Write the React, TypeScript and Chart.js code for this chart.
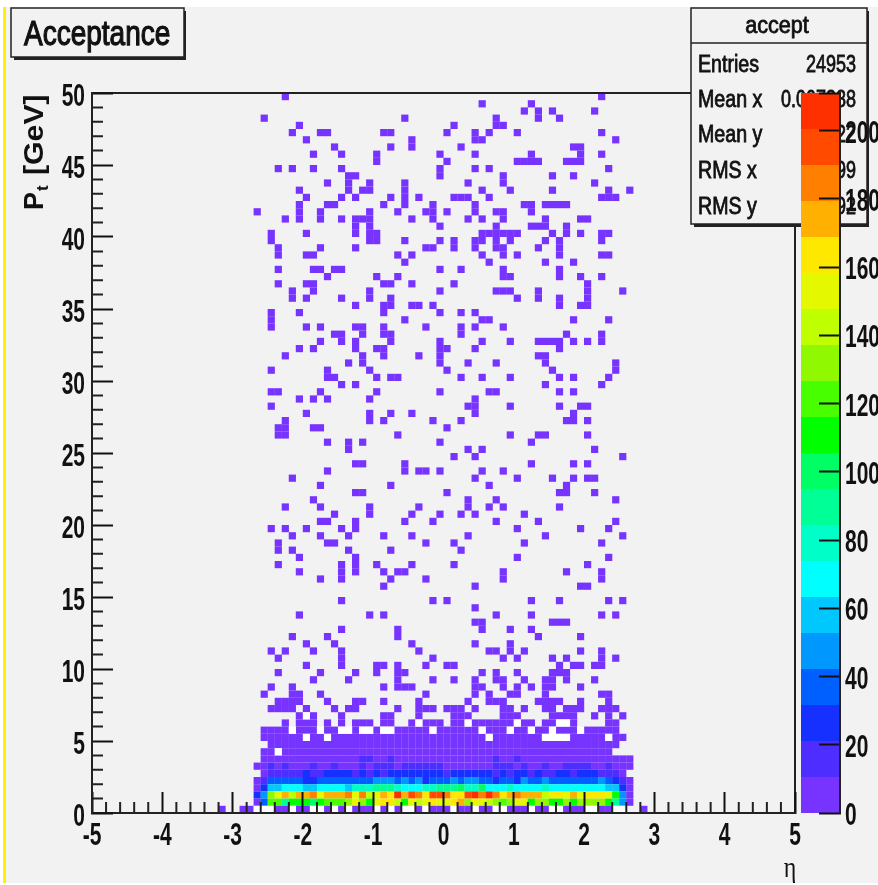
import React, { useEffect, useRef } from "react";
import { Chart, registerables } from "chart.js";

Chart.register(...registerables);

const etaMin = -5;
const etaMax = 5;
const ptMin = 0;
const ptMax = 50;
const countMax = 211;
const binsEta = 100;
const binsPt = 100;

const bandColors = [
  "#7733ff", "#4d2dff", "#1530ff", "#0060ff", "#0098ff", "#00c8ff", "#00ffff", "#00ffc8", "#00ff96", "#00ff64",
  "#00ff00", "#48ff00", "#90f800", "#c0ff00", "#e4f800", "#ffe800", "#ffb000", "#ff8000", "#ff4a00", "#ff3000",
];

const zTickLabels = [0, 20, 40, 60, 80, 100, 120, 140, 160, 180, 200];

// Columns with a single-entry cell, listed row by row from the top of the plot (row 0 = 49.5-50 GeV)
const sparseRows: number[][] = [
  [27, 72], [55, 62], [61, 63, 65, 71], [24, 44, 57, 63, 66], [29, 51, 57, 58],
  [28, 32, 33, 41, 42, 50, 54, 56, 60, 72], [30, 45, 54, 55, 74], [34, 42, 45, 52, 68, 69], [31, 35, 40, 49, 54, 62, 69, 72], [40, 50, 60, 61, 62, 63, 67, 68, 69],
  [26, 28, 31, 35, 49, 54, 56, 73], [36, 37, 49, 58, 65, 68], [33, 36, 39, 44, 53, 58, 71], [29, 36, 38, 39, 44, 55, 59, 65, 73, 76], [30, 35, 37, 42, 44, 46, 51, 52, 53, 56, 72, 73, 74],
  [29, 33, 34, 41, 44, 48, 54, 61, 62, 64, 65, 66, 67], [23, 29, 32, 39, 43, 47, 48, 50, 54, 57, 58, 62], [27, 29, 32, 35, 37, 38, 39, 45, 48, 53, 55, 58, 64, 69, 70], [37, 39, 49, 57, 62, 63, 64, 67], [25, 30, 37, 39, 40, 55, 56, 57, 58, 59, 60, 65, 67, 69, 72, 73],
  [25, 39, 40, 44, 49, 51, 54, 55, 57, 59, 64, 66, 72], [26, 32, 37, 47, 48, 51, 54, 57, 58, 63, 66], [26, 30, 31, 43, 45, 55, 58, 60, 66, 72, 73], [44, 56, 64, 68], [26, 31, 32, 34, 35, 49, 52, 58, 66],
  [33, 40, 43, 58, 59, 66, 69, 72], [26, 30, 31, 41, 42, 45, 51, 70], [28, 31, 39, 49, 57, 58, 59, 63, 70, 75], [28, 30, 35, 39, 42, 60, 63, 66, 70], [37, 41, 42, 45, 46, 48, 66, 69, 70],
  [25, 29, 41, 49, 52, 54], [25, 44, 55, 56, 68, 73], [25, 30, 32, 37, 38, 41, 47, 52, 54, 58], [34, 35, 38, 41, 42, 52, 67, 72], [32, 35, 37, 42, 49, 55, 59, 63, 64, 65, 66, 68, 70, 72],
  [29, 31, 37, 40, 41, 49, 50, 54, 66], [27, 38, 41, 46, 49, 63, 64], [36, 38, 49, 53, 57, 64, 74], [25, 33, 39, 50, 65, 74], [33, 34, 40, 42, 43, 52, 55, 59, 66, 68, 73],
  [35, 37, 64, 72], [25, 26, 32, 40, 49, 56, 57, 66, 68], [29, 31, 33, 39, 54], [25, 53, 54, 59, 66, 69, 70], [30, 39, 42, 45, 54, 68],
  [27, 39, 41, 48, 52, 67, 68, 70], [26, 27, 31, 32, 50], [26, 27, 43, 59, 63, 64, 70], [33, 36, 38, 49, 62], [36, 53, 55, 71],
  [51, 54, 75], [37, 38, 44, 62, 68, 70], [33, 44, 46, 47, 49, 55, 58], [28, 54, 60, 65, 68, 70, 71], [32, 42, 56, 67],
  [37, 38, 50, 66, 67, 71], [31, 53, 57, 74], [27, 32, 39, 46, 53, 56, 58, 66], [34, 39, 45, 49, 52, 54, 61], [32, 33, 37, 44, 48, 57, 63, 74],
  [25, 27, 30, 35, 37, 60, 69, 73], [28, 32, 36, 41, 45, 53, 64, 75], [26, 33, 34, 47, 51, 61, 72], [26, 28, 36, 42, 52], [29, 37, 60, 73],
  [26, 35, 37, 40, 45, 51, 70], [29, 35, 37, 41, 43, 44, 58, 67, 72], [32, 35, 42, 47, 58, 72], [41, 54, 69, 70], [],
  [35, 48, 50, 62, 66, 73, 75], [54], [29, 39, 41, 57, 62, 72, 74], [54, 55, 65, 66, 67], [35, 43, 55, 59, 62],
  [28, 33, 43, 63, 69], [30, 34, 45, 54, 59], [25, 27, 31, 35, 46, 56, 57, 59, 61, 69, 72], [26, 35, 48, 58, 60, 65, 67, 72, 74], [30, 35, 40, 41, 43, 47, 50, 51, 66, 68, 69, 71, 72],
  [26, 32, 37, 40, 43, 44, 55, 57, 60, 65, 66, 67], [31, 36, 43, 48, 51, 54, 57, 58, 61, 64, 65, 67, 71], [25, 28, 41, 43, 44, 45, 54, 55, 58, 60, 62, 64, 65, 69], [24, 28, 29, 32, 47, 54, 56, 59, 60, 64, 72, 73], [26, 27, 28, 29, 33, 37, 38, 41, 46, 53, 56, 57, 58, 63, 64, 65, 66, 69, 73],
  [25, 26, 27, 28, 30, 34, 36, 37, 43, 46, 47, 48, 50, 51, 52, 54, 58, 59, 61, 64, 65, 67, 68, 69, 72, 73, 74],
  [29, 31, 35, 41, 42, 46, 51, 52, 53, 58, 59, 60, 65, 66, 67, 68, 71, 73, 75],
  [27, 29, 30, 31, 33, 35, 37, 38, 39, 41, 42, 45, 47, 48, 49, 51, 52, 54, 55, 56, 57, 58, 59, 61, 62, 64, 65, 68, 73, 74],
  [24, 25, 26, 27, 29, 30, 31, 33, 34, 37, 40, 43, 44, 45, 46, 47, 49, 50, 51, 52, 53, 54, 56, 57, 58, 60, 61, 63, 64, 66, 67, 68, 70, 71, 72, 73, 74],
];

// Almost filled rows: first column, last column, empty columns inside
const row89 = { first: 24, last: 75, empty: [30, 33, 56, 64, 65, 66, 67, 73] };
const row90 = { first: 25, last: 74, empty: [] as number[] };
const row91 = { first: 24, last: 73, empty: [26] };

// Counts per column, starting at the column named in the first field
const row92 = { first: 24, counts: [5, 5, 5, 5, 5, 5, 5, 5, 5, 5, 5, 5, 5, 5, 16, 16, 5, 5, 16, 5, 5, 5, 5, 5, 5, 5, 5, 5, 5, 5, 5, 5, 5, 16, 5, 5, 16, 5, 5, 5, 5, 5, 5, 5, 5, 5, 5, 5, 5, 5, 5, 5, 5] };
const row93 = { first: 23, counts: [5, 5, 16, 5, 16, 5, 5, 5, 16, 5, 5, 16, 5, 5, 5, 16, 5, 16, 16, 16, 5, 16, 16, 16, 16, 16, 16, 5, 5, 5, 5, 5, 5, 5, 16, 16, 16, 5, 16, 5, 5, 16, 5, 5, 16, 16, 16, 16, 5, 5, 16, 5, 5, 5] };
const row94 = { first: 24, counts: [5, 16, 16, 16, 16, 16, 26, 16, 16, 26, 26, 26, 26, 16, 26, 16, 26, 16, 26, 26, 26, 26, 26, 26, 26, 26, 16, 26, 26, 26, 26, 26, 26, 16, 26, 16, 26, 26, 16, 26, 16, 16, 26, 26, 16, 26, 26, 26, 16, 16, 16, 5] };
const row95 = { first: 23, counts: [5, 16, 37, 37, 37, 37, 37, 26, 26, 37, 37, 37, 37, 37, 37, 37, 37, 47, 47, 47, 37, 47, 37, 47, 26, 37, 37, 37, 47, 37, 47, 47, 37, 37, 26, 37, 37, 26, 47, 37, 37, 47, 37, 37, 37, 37, 37, 37, 37, 47, 37, 26, 16, 5] };
const row96 = { first: 23, counts: [5, 26, 58, 58, 69, 69, 69, 58, 58, 69, 69, 69, 69, 58, 79, 79, 79, 90, 90, 90, 79, 69, 69, 69, 79, 79, 90, 90, 90, 100, 79, 79, 100, 69, 69, 69, 79, 69, 69, 69, 69, 79, 69, 69, 69, 69, 69, 69, 69, 69, 58, 58, 26, 5] };
const row97 = { first: 23, counts: [26, 47, 132, 153, 174, 142, 174, 174, 185, 153, 174, 174, 174, 185, 153, 185, 142, 153, 174, 163, 206, 174, 195, 185, 163, 195, 195, 185, 163, 163, 195, 206, 185, 206, 185, 163, 174, 185, 174, 174, 174, 142, 163, 163, 153, 174, 153, 163, 163, 163, 153, 111, 47, 5] };
const row98 = { first: 23, counts: [5, 37, 121, 121, 90, 111, 111, 111, 100, 111, 121, 121, 121, 132, 153, 132, 111, 153, 163, 163, 142, 111, 153, 142, 153, 163, 153, 153, 163, 174, 132, 153, 153, 142, 132, 121, 132, 153, 153, 111, 132, 132, 111, 111, 132, 111, 132, 132, 132, 132, 111, 90, 47, 5] };
const row99Filled = [18, 21, 22, 26, 27, 29, 30, 33, 35, 37, 38, 39, 41, 43, 46, 48, 49, 50, 52, 53, 55, 56, 59, 60, 61, 63, 64, 67, 68, 69, 72, 73, 78];
const row99Span = { first: 23, last: 75 };

// Empty-but-white cells inside the populated zone: [row, column]
const whiteHoles = [
  [86, 30], [87, 46], [87, 53], [87, 60], [87, 66], [87, 67],
  [88, 28], [88, 32], [88, 35], [88, 36], [88, 38], [88, 39], [88, 41], [88, 42], [88, 48], [88, 55], [88, 59], [88, 62], [88, 65], [88, 69],
  [89, 30], [89, 33], [89, 56], [89, 64], [89, 65], [89, 66], [89, 67], [89, 73], [91, 26],
];

const statsTitle = "accept";
const statsLabels = ["Entries", "Mean x", "Mean y", "RMS x", "RMS y"];
const statsValues = ["24953", "0.007388", "2.422", "1.399", "4.592"];

const FONT = "'Liberation Sans', Arial, sans-serif";

type Cell = { x: number; y: number; count: number };

const etaOf = (col: number) => etaMin + ((col + 0.5) * (etaMax - etaMin)) / binsEta;
const ptOf = (row: number) => ptMax - ((row + 0.5) * (ptMax - ptMin)) / binsPt;
const bandOf = (count: number) => Math.min(bandColors.length - 1, Math.floor((count / countMax) * bandColors.length));

function buildCells(): { filled: Cell[]; white: Cell[] } {
  const filled: Cell[] = [];
  const white: Cell[] = [];
  sparseRows.forEach((cols, row) => cols.forEach((col) => filled.push({ x: etaOf(col), y: ptOf(row), count: 1 })));
  ([[89, row89], [90, row90], [91, row91]] as const).forEach(([row, r]) => {
    for (let col = r.first; col <= r.last; col++) {
      if (!r.empty.includes(col)) filled.push({ x: etaOf(col), y: ptOf(row), count: 3 });
    }
  });
  ([[92, row92], [93, row93], [94, row94], [95, row95], [96, row96], [97, row97], [98, row98]] as const).forEach(([row, r]) => {
    r.counts.forEach((count, i) => filled.push({ x: etaOf(r.first + i), y: ptOf(row), count }));
  });
  row99Filled.forEach((col) => filled.push({ x: etaOf(col), y: ptOf(99), count: 2 }));
  for (let col = row99Span.first; col <= row99Span.last; col++) {
    if (!row99Filled.includes(col)) white.push({ x: etaOf(col), y: ptOf(99), count: 0 });
  }
  whiteHoles.forEach(([row, col]) => white.push({ x: etaOf(col), y: ptOf(row), count: 0 }));
  return { filled, white };
}

const stretchedText = (
  ctx: CanvasRenderingContext2D,
  text: string,
  x: number,
  y: number,
  sx: number,
  sy: number,
  align: CanvasTextAlign,
  font: string,
  stroke = 0.5,
) => {
  ctx.save();
  ctx.translate(x, y);
  ctx.scale(sx, sy);
  ctx.font = font;
  ctx.textAlign = align;
  ctx.textBaseline = "alphabetic";
  ctx.fillStyle = "#111";
  ctx.strokeStyle = "#111";
  ctx.lineWidth = stroke;
  ctx.fillText(text, 0, 0);
  if (stroke > 0) ctx.strokeText(text, 0, 0);
  ctx.restore();
};

// The reference picture was stretched vertically: the axis labels are drawn by the scales, but taller.
const stretchScaleLabels = (scale: any, dy: number) => {
  if (scale.__stretched) return;
  scale.__stretched = true;
  const base = scale.drawLabels;
  scale.drawLabels = function (area: any) {
    const ctx = this.ctx;
    const orig = ctx.fillText;
    ctx.fillText = function (t: string, x: number, y: number) {
      ctx.save();
      ctx.translate(x, y + dy);
      ctx.scale(1, 1.5);
      orig.call(ctx, t, 0, 0);
      ctx.restore();
    };
    base.call(this, area);
    delete ctx.fillText;
  };
};

const decorations = {
  id: "rootDecorations",
  afterLayout(chart: any) {
    const z = chart.scales.z;
    z.left = 840;
    z.right = 878;
    z.width = 38;
    stretchScaleLabels(chart.scales.x, 0);
    stretchScaleLabels(chart.scales.y, 4);
    stretchScaleLabels(z, 3.5);
  },
  beforeDraw(chart: any) {
    const { ctx, width, height } = chart;
    ctx.save();
    ctx.fillStyle = "#ffffff";
    ctx.fillRect(0, 0, width, height);
    ctx.fillStyle = "#f2f2f2";
    ctx.fillRect(3, 7, width - 3, height - 9);
    ctx.fillStyle = "#fff200";
    ctx.fillRect(3, 7, 3, height - 9);
    ctx.restore();
  },
  afterDatasetsDraw(chart: any) {
    const { ctx, chartArea: a, scales } = chart;
    ctx.save();
    // minor ticks
    ctx.strokeStyle = "#222";
    ctx.lineWidth = 2;
    ctx.beginPath();
    for (let i = 0; i <= 50; i++) {
      const v = etaMin + i * 0.2;
      if (i % 5 === 0) continue;
      const px = scales.x.getPixelForValue(v);
      ctx.moveTo(px, a.bottom);
      ctx.lineTo(px, a.bottom - 11);
    }
    for (let i = 0; i <= 50; i++) {
      if (i % 5 === 0) continue;
      const py = scales.y.getPixelForValue(i);
      ctx.moveTo(a.left, py);
      ctx.lineTo(a.left + 11, py);
    }
    ctx.stroke();
    // frame
    ctx.strokeStyle = "#222";
    ctx.lineWidth = 2;
    ctx.strokeRect(a.left, a.top, a.right - a.left, a.bottom - a.top);

    // stats box
    ctx.fillStyle = "#222";
    ctx.fillRect(694, 11, 175, 216);
    ctx.fillStyle = "#f2f2f2";
    ctx.fillRect(691, 8, 176, 216);
    ctx.strokeStyle = "#222";
    ctx.lineWidth = 1.5;
    ctx.strokeRect(691, 8, 176, 216);
    ctx.beginPath();
    ctx.moveTo(691, 43);
    ctx.lineTo(867, 43);
    ctx.stroke();
    const sFont = "20px 'Liberation Sans', Arial, sans-serif";
    stretchedText(ctx, statsTitle, 777, 33, 1.08, 1.15, "center", sFont, 0.7);
    const rowsY = [72, 107, 142, 178, 214];
    statsLabels.forEach((label, i) => {
      stretchedText(ctx, label, 698, rowsY[i], 0.98, 1.15, "left", sFont, 0.7);
      stretchedText(ctx, statsValues[i], 856, rowsY[i], 0.9, 1.15, "right", sFont, 0.7);
    });

    // colour bar
    const z = scales.z;
    bandColors.forEach((color, i) => {
      const lo = z.getPixelForValue((i * countMax) / bandColors.length);
      const hi = z.getPixelForValue(((i + 1) * countMax) / bandColors.length);
      ctx.fillStyle = color;
      ctx.fillRect(801, hi, 39, lo - hi);
    });
    ctx.restore();
  },
  afterDraw(chart: any) {
    const { ctx } = chart;
    ctx.save();
    // title box
    ctx.fillStyle = "#222";
    ctx.fillRect(14, 11, 172, 49);
    ctx.fillStyle = "#f2f2f2";
    ctx.fillRect(11, 8, 173, 49);
    ctx.strokeStyle = "#222";
    ctx.lineWidth = 1.5;
    ctx.strokeRect(11, 8, 173, 49);
    stretchedText(ctx, "Acceptance", 24, 45, 1, 1.25, "left", "28px 'Liberation Sans', Arial, sans-serif", 1);

    // y axis title
    ctx.translate(43, 210);
    ctx.rotate(-Math.PI / 2);
    const titleFont = "bold 27px 'Liberation Sans', Arial, sans-serif";
    stretchedText(ctx, "P", 0, 0, 1, 1, "left", titleFont, 0);
    stretchedText(ctx, "t", 19, 5, 1, 1, "left", "bold 17px 'Liberation Sans', Arial, sans-serif", 0);
    stretchedText(ctx, "[GeV]", 35, 0, 1.12, 1, "left", titleFont, 0);
    ctx.restore();

    // eta label
    stretchedText(ctx, "η", 790, 877, 1, 1.2, "center", "24px 'Liberation Serif', serif", 0);
  },
};

export default function App() {
  const ref = useRef<HTMLCanvasElement>(null);

  useEffect(() => {
    if (!ref.current) return;
    const { filled, white } = buildCells();
    const cellRadius = 7.2 / Math.SQRT2;
    const tickFont = { family: FONT, size: 21, weight: "bold" as const };
    const axisCommon = {
      grid: { drawOnChartArea: false, tickColor: "#111", tickWidth: 2, tickLength: -21, z: 1 },
      border: { display: true, color: "#222", width: 2, z: 1 },
    };
    const chart = new Chart(ref.current, {
      type: "scatter",
      data: {
        datasets: [
          {
            label: "empty",
            data: white as any,
            pointStyle: "rect",
            pointRadius: cellRadius,
            pointBorderWidth: 0,
            pointBackgroundColor: "#ffffff",
          },
          {
            label: "accept",
            data: filled as any,
            pointStyle: "rect",
            pointRadius: cellRadius,
            pointBorderWidth: 0,
            pointBackgroundColor: filled.map((c) => bandColors[bandOf(c.count)]),
          },
        ],
      },
      options: {
        responsive: false,
        animation: false,
        events: [],
        layout: { padding: { left: 0, top: 93, right: 0, bottom: 12 } },
        plugins: { legend: { display: false }, tooltip: { enabled: false }, title: { display: false } },
        scales: {
          x: {
            type: "linear",
            min: etaMin,
            max: etaMax,
            ...axisCommon,
            ticks: { stepSize: 1, font: tickFont, color: "#111", padding: 32, maxRotation: 0, autoSkip: false, z: 1 },
            afterFit: (s: any) => {
              s.height = 60;
            },
          },
          y: {
            type: "linear",
            min: ptMin,
            max: ptMax,
            ...axisCommon,
            ticks: { stepSize: 5, font: tickFont, color: "#111", padding: 28, autoSkip: false, z: 1 },
            afterFit: (s: any) => {
              s.width = 92;
            },
          },
          z: {
            type: "linear",
            position: "right",
            min: 0,
            max: countMax,
            ...axisCommon,
            ticks: {
              stepSize: 20,
              font: tickFont,
              color: "#111",
              padding: 26,
              autoSkip: false,
              z: 1,
              callback: (v: any) => (zTickLabels.includes(Number(v)) ? String(v) : ""),
            },
            afterFit: (s: any) => {
              s.width = 83;
            },
          },
        },
      },
      plugins: [decorations],
    } as any);
    return () => chart.destroy();
  }, []);

  return <canvas ref={ref} width={878} height={885} style={{ position: "absolute", left: 0, top: 0, display: "block" }} />;
}
